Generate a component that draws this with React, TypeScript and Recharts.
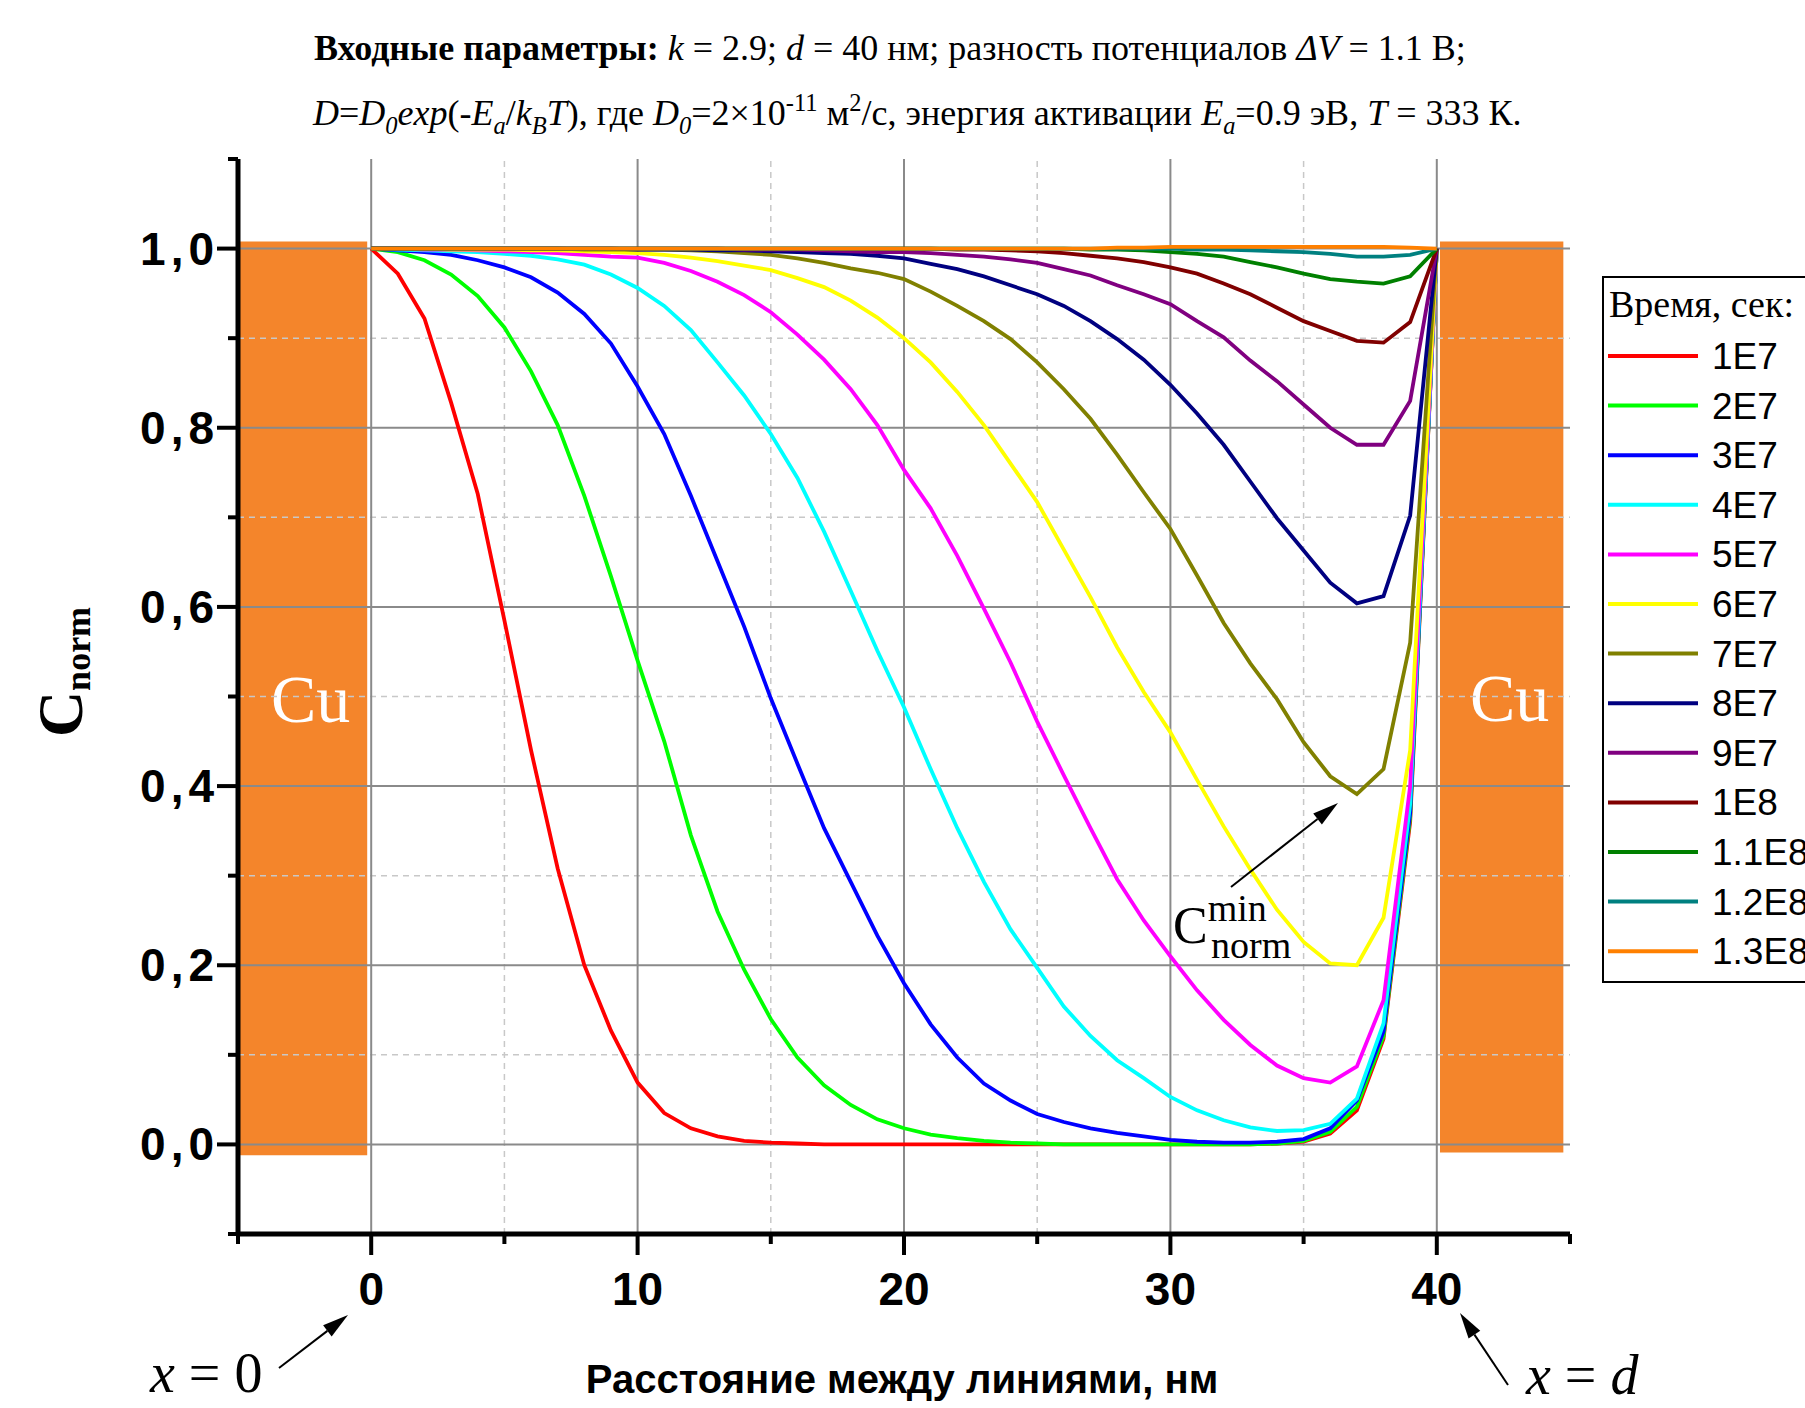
import React from 'react';
import { LineChart, Line, XAxis, YAxis, ReferenceArea, ReferenceLine, Legend } from 'recharts';

// ---------------- data ----------------
const xValues = [0, 1, 2, 3, 4, 5, 6, 7, 8, 9, 10, 11, 12, 13, 14, 15, 16, 17, 18, 19, 20,
  21, 22, 23, 24, 25, 26, 27, 28, 29, 30, 31, 32, 33, 34, 35, 36, 37, 38, 39, 40];

const seriesNames = ['1E7', '2E7', '3E7', '4E7', '5E7', '6E7', '7E7', '8E7', '9E7', '1E8', '1.1E8', '1.2E8', '1.3E8'];
const seriesColors = ['#ff0000', '#00ff00', '#0000ff', '#00ffff', '#ff00ff', '#ffff00', '#808000',
  '#000080', '#800080', '#800000', '#008000', '#008080', '#ff8000'];

const t1E7 = [1, 0.972, 0.922, 0.828, 0.726, 0.585, 0.44, 0.308, 0.2, 0.127, 0.069, 0.035, 0.018, 0.009, 0.004, 0.002, 0.001,
  0, 0, 0, 0, 0, 0, 0, 0, 0, 0, 0, 0, 0, 0, 0, 0, 0, 0.001, 0.003, 0.012, 0.038, 0.118, 0.36, 1];
const t2E7 = [1, 0.996, 0.987, 0.971, 0.947, 0.912, 0.863, 0.803, 0.724, 0.634, 0.54, 0.45, 0.345, 0.26, 0.195, 0.14, 0.097,
  0.066, 0.044, 0.028, 0.018, 0.011, 0.007, 0.004, 0.002, 0.001, 0, 0, 0, 0, 0, 0, 0, 0, 0.001, 0.004, 0.014, 0.042, 0.121, 0.365, 1];
const t3E7 = [1, 0.998, 0.996, 0.993, 0.987, 0.979, 0.968, 0.951, 0.927, 0.894, 0.846, 0.793, 0.724, 0.651, 0.578, 0.498, 0.425,
  0.353, 0.293, 0.233, 0.18, 0.134, 0.097, 0.068, 0.049, 0.034, 0.025, 0.018, 0.013, 0.009, 0.005, 0.003, 0.002, 0.002, 0.003,
  0.006, 0.018, 0.049, 0.126, 0.37, 1];
const t4E7 = [1, 0.999, 0.998, 0.997, 0.996, 0.994, 0.992, 0.988, 0.982, 0.971, 0.956, 0.936, 0.909, 0.873, 0.836, 0.793, 0.744,
  0.684, 0.618, 0.551, 0.488, 0.419, 0.353, 0.293, 0.24, 0.197, 0.154, 0.121, 0.094, 0.074, 0.053, 0.038, 0.027, 0.019, 0.015,
  0.016, 0.023, 0.051, 0.135, 0.38, 1];
const t5E7 = [1, 1, 0.999, 0.999, 0.998, 0.997, 0.996, 0.995, 0.993, 0.991, 0.99, 0.984, 0.975, 0.963, 0.948, 0.929, 0.904,
  0.876, 0.843, 0.803, 0.753, 0.71, 0.657, 0.598, 0.538, 0.472, 0.412, 0.353, 0.296, 0.25, 0.21, 0.172, 0.139, 0.111, 0.088,
  0.074, 0.069, 0.087, 0.161, 0.4, 1];
const t6E7 = [1, 1, 1, 0.999, 0.999, 0.999, 0.998, 0.998, 0.997, 0.996, 0.995, 0.993, 0.99, 0.986, 0.981, 0.976, 0.967,
  0.957, 0.942, 0.923, 0.9, 0.873, 0.84, 0.803, 0.76, 0.717, 0.664, 0.611, 0.555, 0.505, 0.46, 0.407, 0.355, 0.307, 0.262,
  0.226, 0.202, 0.2, 0.253, 0.44, 1];
const t7E7 = [1, 1, 1, 1, 1, 1, 1, 1, 0.999, 0.999, 0.999, 0.999, 0.998, 0.997, 0.995, 0.993, 0.989,
  0.984, 0.978, 0.973, 0.966, 0.952, 0.936, 0.919, 0.899, 0.873, 0.843, 0.81, 0.77, 0.728, 0.687, 0.635, 0.582, 0.537, 0.497,
  0.449, 0.411, 0.391, 0.419, 0.56, 1];
const t8E7 = [1, 1, 1, 1, 1, 1, 1, 1, 1, 1, 0.999, 0.999, 0.999, 0.998, 0.998, 0.997, 0.996,
  0.995, 0.994, 0.992, 0.989, 0.983, 0.977, 0.969, 0.959, 0.949, 0.936, 0.919, 0.899, 0.876, 0.848, 0.816, 0.781, 0.74, 0.699,
  0.663, 0.627, 0.604, 0.612, 0.702, 1];
const t9E7 = [1, 1, 1, 1, 1, 1, 1, 1, 1, 1, 1, 1, 1, 1, 0.999, 0.999, 0.999,
  0.998, 0.997, 0.996, 0.996, 0.995, 0.993, 0.991, 0.988, 0.984, 0.977, 0.97, 0.959, 0.949, 0.938, 0.919, 0.901, 0.875, 0.852,
  0.826, 0.8, 0.781, 0.781, 0.83, 1];
const t1E8 = [1, 1, 1, 1, 1, 1, 1, 1, 1, 1, 1, 1, 1, 1, 1, 1, 1,
  1, 1, 1, 1, 1, 0.999, 0.999, 0.998, 0.997, 0.995, 0.992, 0.989, 0.985, 0.979, 0.972, 0.961, 0.949, 0.934,
  0.919, 0.908, 0.897, 0.895, 0.918, 1];
const t11E8 = [1, 1, 1, 1, 1, 1, 1, 1, 1, 1, 1, 1, 1, 1, 1, 1, 1,
  1, 1, 1, 1, 1, 1, 1, 1, 1, 1, 0.999, 0.999, 0.998, 0.996, 0.994, 0.991, 0.985, 0.979,
  0.972, 0.966, 0.963, 0.961, 0.969, 1];
const t12E8 = [1, 1, 1, 1, 1, 1, 1, 1, 1, 1, 1, 1, 1, 1, 1, 1, 1,
  1, 1, 1, 1, 1, 1, 1, 1, 1, 1, 1, 1, 1, 1, 0.999, 0.999, 0.998, 0.997,
  0.996, 0.994, 0.991, 0.991, 0.993, 1];
const t13E8 = [1, 1, 1, 1, 1, 1, 1, 1, 1, 1, 1, 1, 1, 1, 1, 1, 1,
  1, 1, 1, 1, 1, 1, 1, 1, 1, 1, 1, 1.001, 1.001, 1.002, 1.002, 1.002, 1.002, 1.002,
  1.002, 1.002, 1.002, 1.002, 1.001, 1];

const seriesValues = [t1E7, t2E7, t3E7, t4E7, t5E7, t6E7, t7E7, t8E7, t9E7, t1E8, t11E8, t12E8, t13E8];

// axes
const xTicks = [-5, 0, 5, 10, 15, 20, 25, 30, 35, 40, 45];
const xMajorTicks = [0, 10, 20, 30, 40];
const xMinorGrid = [5, 15, 25, 35];
const yTicks = [-0.1, 0, 0.1, 0.2, 0.3, 0.4, 0.5, 0.6, 0.7, 0.8, 0.9, 1.0, 1.1];
const yMajorTicks = [0, 0.2, 0.4, 0.6, 0.8, 1.0];
const yMajorLabels = ['0,0', '0,2', '0,4', '0,6', '0,8', '1,0'];
const yMinorGrid = [0.1, 0.3, 0.5, 0.7, 0.9];

// texts
const xAxisTitle = 'Расстояние между линиями, нм';
const legendTitle = 'Время, сек:';
const electrodeLabel = 'Cu';
const leftElectrode = { x1: -5, x2: -0.15, y1: -0.012, y2: 1.008 };
const rightElectrode = { x1: 40.12, x2: 44.75, y1: -0.009, y2: 1.008 };

type Seg = { t: string; i?: boolean; b?: boolean; s?: 'sub' | 'sup' };
const titleLine1: Seg[] = [
  { t: 'Входные параметры:', b: true }, { t: ' ' }, { t: 'k', i: true }, { t: ' = 2.9; ' }, { t: 'd', i: true },
  { t: ' = 40 нм; разность потенциалов ' }, { t: 'ΔV', i: true }, { t: ' = 1.1 В;' },
];
const titleLine2: Seg[] = [
  { t: 'D', i: true }, { t: '=' }, { t: 'D', i: true }, { t: '0', i: true, s: 'sub' }, { t: 'exp', i: true }, { t: '(-' },
  { t: 'E', i: true }, { t: 'a', i: true, s: 'sub' }, { t: '/' }, { t: 'k', i: true }, { t: 'B', i: true, s: 'sub' },
  { t: 'T', i: true }, { t: '), где ' }, { t: 'D', i: true }, { t: '0', i: true, s: 'sub' }, { t: '=2×10' },
  { t: '-11', s: 'sup' }, { t: ' м' }, { t: '2', s: 'sup' }, { t: '/с, энергия активации ' }, { t: 'E', i: true },
  { t: 'a', i: true, s: 'sub' }, { t: '=0.9 эВ, ' }, { t: 'T', i: true }, { t: ' = 333 К.' },
];

const SANS = "'Liberation Sans', Arial, sans-serif";
const SERIF = "'Liberation Serif', 'Times New Roman', serif";

const rows = xValues.map((x, i) => {
  const r: Record<string, number> = { x };
  seriesValues.forEach((s, k) => { r['s' + k] = s[i]; });
  return r;
});

// ---------------- helpers ----------------
function RichText({ x, y, size, segs }: { x: number; y: number; size: number; segs: Seg[] }) {
  let cur = 0;
  return (
    <text x={x} y={y} fontFamily={SERIF} fontSize={size} fill="#000" style={{ whiteSpace: 'pre' }}>
      {segs.map((sg, k) => {
        const target = sg.s === 'sub' ? size * 0.25 : sg.s === 'sup' ? -size * 0.4 : 0;
        const dy = target - cur;
        cur = target;
        return (
          <tspan key={k} dy={dy !== 0 ? dy : undefined} fontFamily={SERIF} fontSize={sg.s ? size * 0.68 : size}
            fontStyle={sg.i ? 'italic' : 'normal'} fontWeight={sg.b ? 'bold' : 'normal'}>{sg.t}</tspan>
        );
      })}
    </text>
  );
}

function Arrow({ x1, y1, x2, y2, head = 26, hw = 7, sw = 2 }: any) {
  const dx = x2 - x1, dy = y2 - y1;
  const len = Math.sqrt(dx * dx + dy * dy);
  const ux = dx / len, uy = dy / len;
  const bx = x2 - ux * head, by = y2 - uy * head;
  const px = -uy, py = ux;
  return (
    <g>
      <line x1={x1} y1={y1} x2={bx} y2={by} stroke="#000" strokeWidth={sw} />
      <polygon points={`${x2},${y2} ${bx + px * hw},${by + py * hw} ${bx - px * hw},${by - py * hw}`} fill="#000" />
    </g>
  );
}

const isMajorX = (v: number) => xMajorTicks.indexOf(v) >= 0;
const majorYIndex = (v: number) => yMajorTicks.findIndex((m) => Math.abs(m - v) < 1e-6);

const BottomTick = (p: any) => {
  const v = p.payload.value;
  const major = isMajorX(v);
  return (
    <g>
      <line x1={p.x} x2={p.x} y1={p.y} y2={p.y + (major ? 21 : 10)} stroke="#000" strokeWidth={4} />
      {major && (
        <text x={p.x} y={p.y + 71} textAnchor="middle" fontFamily={SANS} fontWeight="bold" fontSize={46} fill="#000">{v}</text>
      )}
    </g>
  );
};
const TopTick = (p: any) => {
  const major = isMajorX(p.payload.value);
  return <line x1={p.x} x2={p.x} y1={p.y} y2={p.y - (major ? 21 : 10)} stroke="#000" strokeWidth={4} />;
};
const LeftTick = (p: any) => {
  const idx = majorYIndex(p.payload.value);
  const major = idx >= 0;
  return (
    <g>
      <line x1={p.x - (major ? 21 : 10)} x2={p.x} y1={p.y} y2={p.y} stroke="#000" strokeWidth={4} />
      {major && (
        <text x={p.x - 19} y={p.y + 16} textAnchor="end" fontFamily={SANS} fontWeight="bold" fontSize={46}
          letterSpacing={5} fill="#000">{yMajorLabels[idx]}</text>
      )}
    </g>
  );
};
const RightTick = (p: any) => {
  const major = majorYIndex(p.payload.value) >= 0;
  return <line x1={p.x} x2={p.x + (major ? 20 : 10)} y1={p.y} y2={p.y} stroke="#000" strokeWidth={4} />;
};

const CuLabel = (props: any) => {
  const vb = props.viewBox || {};
  return (
    <text x={vb.x + vb.width / 2 + 8} y={vb.y + vb.height / 2 + 24} textAnchor="middle" fontFamily={SERIF} fontSize={68} fill="#fff">{electrodeLabel}</text>
  );
};

const LegendBox = () => (
  <svg width={260} height={710} style={{ display: 'block' }}>
    <rect x={1} y={1} width={300} height={705} fill="#fff" stroke="#000" strokeWidth={2} />
    <text x={7} y={41} fontFamily={SERIF} fontSize={38} fill="#000">{legendTitle}</text>
    {seriesNames.map((n, i) => {
      const cy = 80 + i * 49.6;
      return (
        <g key={n}>
          <line x1={6} x2={96} y1={cy} y2={cy} stroke={seriesColors[i]} strokeWidth={4} />
          <text x={110} y={cy + 13} fontFamily={SANS} fontSize={37} fill="#000">{n}</text>
        </g>
      );
    })}
  </svg>
);

export default function App() {
  const axisLine = { stroke: '#000', strokeWidth: 5 };
  return (
    <div style={{ position: 'absolute', left: 0, top: 0, width: 1805, height: 1408, overflow: 'hidden', background: '#fff' }}>
      <LineChart width={1805} height={1408} data={rows} margin={{ top: 159, right: 235, bottom: 74, left: 108 }}>
        <XAxis xAxisId={0} dataKey="x" type="number" domain={[-5, 45]} ticks={xTicks} interval={0} allowDataOverflow
          tick={BottomTick} tickLine={false} tickSize={0} tickMargin={0} axisLine={axisLine} height={100} />
        <XAxis xAxisId="top" orientation="top" dataKey="x" type="number" domain={[-5, 45]} ticks={xTicks} interval={0}
          allowDataOverflow tick={TopTick} tickLine={false} tickSize={0} tickMargin={0} axisLine={axisLine} height={0} />
        <YAxis yAxisId={0} type="number" domain={[-0.1, 1.1]} ticks={yTicks} interval={0} allowDataOverflow
          tick={LeftTick} tickLine={false} tickSize={0} tickMargin={0} axisLine={axisLine} width={130} />
        <YAxis yAxisId="right" orientation="right" type="number" domain={[-0.1, 1.1]} ticks={yTicks} interval={0}
          allowDataOverflow tick={RightTick} tickLine={false} tickSize={0} tickMargin={0} axisLine={axisLine} width={0} />

        {xMinorGrid.map((v) => (
          <ReferenceLine key={'xm' + v} x={v} stroke="#c8c8c8" strokeWidth={1.5} strokeDasharray="6 5" />
        ))}
        {yMinorGrid.map((v) => (
          <ReferenceLine key={'ym' + v} y={v} stroke="#c8c8c8" strokeWidth={1.5} strokeDasharray="6 5" />
        ))}
        {xMajorTicks.map((v) => (
          <ReferenceLine key={'xM' + v} x={v} stroke="#8a8a8a" strokeWidth={2} />
        ))}
        {yMajorTicks.map((v) => (
          <ReferenceLine key={'yM' + v} y={v} stroke="#8a8a8a" strokeWidth={2} />
        ))}

        <ReferenceArea x1={leftElectrode.x1} x2={leftElectrode.x2} y1={leftElectrode.y1} y2={leftElectrode.y2}
          fill="#f4852b" fillOpacity={1} stroke="none" label={<CuLabel />} />
        <ReferenceArea x1={rightElectrode.x1} x2={rightElectrode.x2} y1={rightElectrode.y1} y2={rightElectrode.y2}
          fill="#f4852b" fillOpacity={1} stroke="none" label={<CuLabel />} />

        {seriesNames.map((n, k) => (
          <Line key={n} name={n} dataKey={'s' + k} type="linear" stroke={seriesColors[k]} strokeWidth={3.8}
            dot={false} activeDot={false} isAnimationActive={false} />
        ))}

        <Legend layout="vertical" align="center" verticalAlign="middle" content={() => <LegendBox />}
          wrapperStyle={{ left: 1602, top: 276, width: 260, height: 710 }} />
      </LineChart>

      <svg width={1805} height={1408} style={{ position: 'absolute', left: 0, top: 0, pointerEvents: 'none' }}>
        <RichText x={314} y={60} size={36} segs={titleLine1} />
        <RichText x={313} y={125} size={36} segs={titleLine2} />

        <text transform="translate(82,672) rotate(-90)" textAnchor="middle" fontFamily={SERIF} fontWeight="bold" fill="#000">
          <tspan fontSize={64} fontFamily={SERIF}>C</tspan>
          <tspan fontSize={36} fontFamily={SERIF} dy={8}>norm</tspan>
        </text>

        <text x={902} y={1393} textAnchor="middle" fontFamily={SANS} fontWeight="bold" fontSize={40} fill="#000">{xAxisTitle}</text>

        <text x={150} y={1392} fontFamily={SERIF} fontSize={56} fill="#000" style={{ whiteSpace: 'pre' }}>
          <tspan fontFamily={SERIF} fontStyle="italic">x</tspan><tspan fontFamily={SERIF}> = 0</tspan>
        </text>
        <Arrow x1={279} y1={1368} x2={348} y2={1315} />
        <text x={1526} y={1394} fontFamily={SERIF} fontSize={56} fill="#000" style={{ whiteSpace: 'pre' }}>
          <tspan fontFamily={SERIF} fontStyle="italic">x</tspan><tspan fontFamily={SERIF}> = </tspan>
          <tspan fontFamily={SERIF} fontStyle="italic">d</tspan>
        </text>
        <Arrow x1={1508} y1={1385} x2={1460} y2={1313} />

        <text x={1173} y={943} fontFamily={SERIF} fontSize={52} fill="#000">
          <tspan fontFamily={SERIF}>C</tspan>
          <tspan fontFamily={SERIF} fontSize={38} dy={-22}>min</tspan>
          <tspan fontFamily={SERIF} fontSize={38} x={1211} dy={37}>norm</tspan>
        </text>
        <Arrow x1={1231} y1={887} x2={1338} y2={803} />
      </svg>
    </div>
  );
}
